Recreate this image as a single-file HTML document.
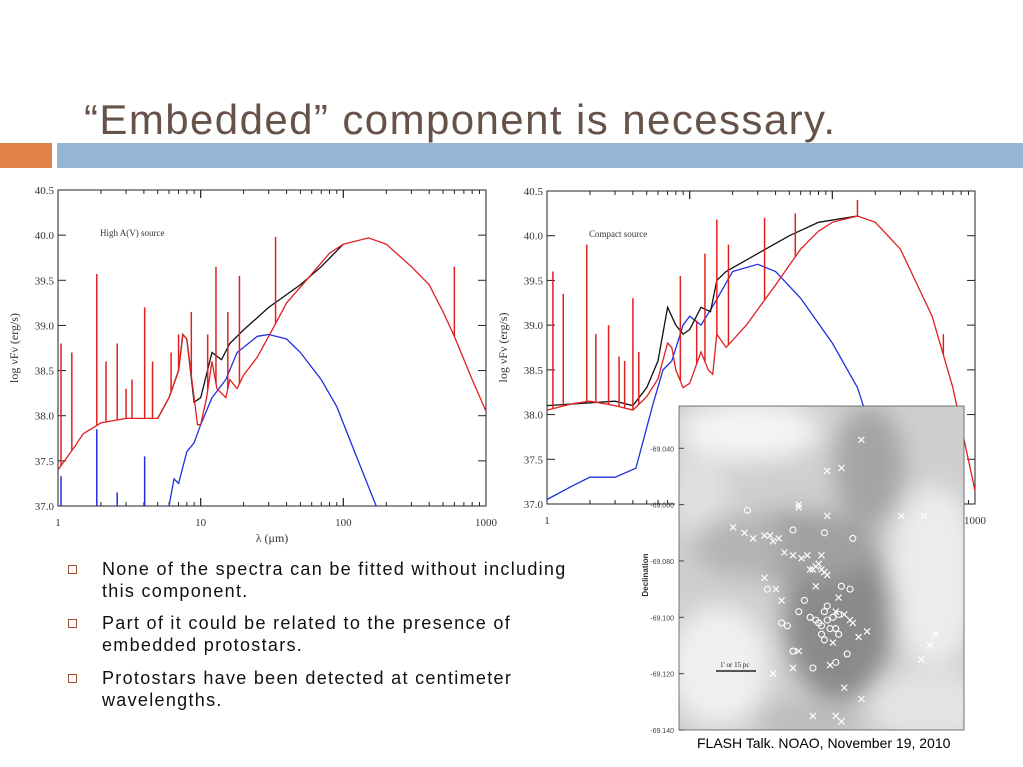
<!DOCTYPE html>
<html><head><meta charset="utf-8">
<style>
body{margin:0;width:1023px;height:767px;background:#fff;position:relative;overflow:hidden;font-family:"Liberation Sans",sans-serif}
.abs{position:absolute}
.bul{position:absolute;left:102px;font-size:18px;letter-spacing:1.3px;line-height:22px;color:#111;width:480px}
.sq{position:absolute;left:68px;width:7px;height:7px;border:1px solid #a05030}
</style></head><body>
<svg class="abs" style="left:0;top:0" width="1023" height="767">
<text x="84" y="134" font-size="42" fill="#665248" textLength="751" font-family="Liberation Sans, sans-serif">“Embedded” component is necessary.</text>
<rect x="0" y="143" width="52" height="25" fill="#e0824a"/>
<rect x="57" y="143" width="966" height="25" fill="#94b6d2"/>
<g id="chartL"></g>
<g id="chartR"></g>
<g id="img"></g>
</svg>
<div class="sq" style="top:565px"></div>
<div class="bul" style="top:558px">None of the spectra can be fitted without including this component.</div>
<div class="sq" style="top:619px"></div>
<div class="bul" style="top:612px">Part of it could be related to the presence of embedded protostars.</div>
<div class="sq" style="top:674px"></div>
<div class="bul" style="top:667px">Protostars have been detected at centimeter wavelengths.</div>
<div class="abs" style="left:697px;top:735px;font-size:14px;color:#000">FLASH Talk. NOAO, November 19, 2010</div>
<script>
// ---- Left chart data ----
const L_redLam=[1,1.3,1.5,2,3,5,6,7,7.5,8,9,9.5,10,11,12,13,15,16,18,20,25,33,40,55,80,100,150,200,300,400,500,600,800,1000];
const L_redVal=[37.4,37.65,37.8,37.92,37.97,37.97,38.2,38.5,38.9,38.85,38.2,37.9,37.9,38.2,38.6,38.3,38.2,38.4,38.3,38.45,38.65,39.0,39.25,39.5,39.8,39.9,39.97,39.9,39.65,39.45,39.15,38.88,38.4,38.05];
const L_blkLam=[5,6,7,7.5,8,9,10,12,14,16,20,30,50,70,100];
const L_blkVal=[37.97,38.2,38.5,38.9,38.85,38.15,38.2,38.7,38.62,38.8,38.95,39.2,39.45,39.65,39.9];
const L_bluLam=[6,6.5,7,8,9,10,12,15,18,25,30,40,50,70,90,120,170];
const L_bluVal=[37.0,37.3,37.25,37.6,37.7,37.9,38.2,38.4,38.7,38.88,38.9,38.85,38.7,38.4,38.1,37.6,37.0];
const L_spkLam=[1.05,1.25,1.87,2.17,2.6,3.0,3.3,4.05,4.6,6.2,7,8.6,11.2,12.8,15.5,18.7,33.5,600];
const L_spkVal=[38.8,38.7,39.57,38.6,38.8,38.3,38.4,39.2,38.6,38.7,38.9,39.15,38.9,39.65,39.15,39.55,39.98,39.65];
const L_bspkLam=[1.05,1.87,2.6,4.05];
const L_bspkVal=[37.33,37.85,37.15,37.55];
// ---- Right chart data ----
const R_redLam=[1,1.5,2,3,4,5,6,7,7.5,8,9,10,12,13.5,14.5,15.5,18,25,40,60,80,100,150,200,300,500,700,1000];
const R_redVal=[38.05,38.12,38.15,38.1,38.05,38.2,38.4,38.8,38.75,38.5,38.3,38.35,38.7,38.5,38.45,38.9,38.75,39.0,39.45,39.85,40.05,40.15,40.22,40.15,39.85,39.1,38.3,37.15];
const R_blkLam=[1,3,4,5,6,7,8,9,10,12,14,15.5,18,30,50,80,150];
const R_blkVal=[38.1,38.15,38.1,38.3,38.6,39.2,39.0,38.9,38.95,39.2,39.15,39.5,39.6,39.8,40.0,40.15,40.22];
const R_bluLam=[1,1.5,2,3,4.2,5.5,6.5,7.5,9,10,12,15,20,30,40,60,100,150,250];
const R_bluVal=[37.05,37.2,37.3,37.3,37.4,38.1,38.5,38.6,39.0,39.1,39.0,39.25,39.6,39.68,39.6,39.3,38.8,38.3,37.2];
const R_spkLam=[1.1,1.3,1.9,2.2,2.7,3.2,3.5,4.0,4.4,8.6,11.2,12.8,15.5,18.7,33.5,55,150,600];
const R_spkVal=[39.6,39.35,39.9,38.9,39.0,38.65,38.6,39.3,38.7,39.55,39.05,39.8,40.18,39.9,40.2,40.25,40.4,38.9];
const yTicks=[37.0,37.5,38.0,38.5,39.0,39.5,40.0,40.5];
const xTicks=[1,10,100,1000];
// ---- Image markers (frame fraction x, Dec) ----
const crossX=[0.64,0.52,0.57,0.42,0.42,0.52,0.78,0.86,0.19,0.23,0.26,0.3,0.32,0.33,0.35,0.37,0.4,0.43,0.45,0.5,0.46,0.47,0.48,0.49,0.5,0.51,0.52,0.48,0.3,0.34,0.36,0.56,0.55,0.58,0.6,0.61,0.63,0.66,0.54,0.42,0.53,0.58,0.64,0.9,0.88,0.85,0.33,0.57,0.47,0.55,0.4];
const crossY=[-69.037,-69.048,-69.047,-69.060,-69.061,-69.064,-69.064,-69.064,-69.068,-69.070,-69.072,-69.071,-69.071,-69.073,-69.072,-69.077,-69.078,-69.079,-69.078,-69.078,-69.083,-69.083,-69.082,-69.081,-69.083,-69.084,-69.085,-69.089,-69.086,-69.090,-69.094,-69.093,-69.098,-69.099,-69.101,-69.102,-69.107,-69.105,-69.109,-69.112,-69.117,-69.125,-69.129,-69.106,-69.110,-69.115,-69.120,-69.137,-69.135,-69.135,-69.118];
const circX=[0.24,0.4,0.51,0.61,0.31,0.44,0.52,0.51,0.56,0.57,0.6,0.42,0.46,0.48,0.49,0.5,0.52,0.53,0.54,0.55,0.56,0.5,0.51,0.38,0.4,0.36,0.47,0.59,0.55,0.4];
const circY=[-69.062,-69.069,-69.070,-69.072,-69.090,-69.094,-69.096,-69.098,-69.099,-69.089,-69.090,-69.098,-69.100,-69.101,-69.102,-69.103,-69.101,-69.104,-69.100,-69.104,-69.106,-69.106,-69.108,-69.103,-69.112,-69.102,-69.118,-69.113,-69.116,-69.112];

const NS="http://www.w3.org/2000/svg";
function mk(parent,tag,attrs){const e=document.createElementNS(NS,tag);for(const k in attrs)e.setAttribute(k,attrs[k]);parent.appendChild(e);return e;}

function chart(g,x0,x1,y0,y1,series,label){
  const X=l=>x0+(Math.log10(l)/3)*(x1-x0);
  const Y=v=>y1-(v-37)/3.5*(y1-y0);
  const frame=mk(g,'rect',{x:x0,y:y0,width:x1-x0,height:y1-y0,fill:'#fff',stroke:'#222','stroke-width':1});
  
  
  yTicks.forEach(t=>{
    const y=Y(t);
    mk(g,'line',{x1:x0,x2:x0+8,y1:y,y2:y,stroke:'#222'});
    mk(g,'line',{x1:x1-8,x2:x1,y1:y,y2:y,stroke:'#222'});
    const tx=mk(g,'text',{x:x0-4,y:y+4,'text-anchor':'end','font-size':11,'font-family':'Liberation Serif, serif',fill:'#333'});
    tx.textContent=t.toFixed(1);
    
    
  });
  for(let d=0;d<3;d++)for(let m=1;m<=10;m++){
    const x=X(Math.pow(10,d)*m);const len=(m===1||m===10)?8:4;
    mk(g,'line',{x1:x,x2:x,y1:y1,y2:y1-len,stroke:'#222'});
    mk(g,'line',{x1:x,x2:x,y1:y0,y2:y0+len,stroke:'#222'});
  }
  xTicks.forEach(t=>{
    const tx=mk(g,'text',{x:X(t),y:y1+20,'text-anchor':'middle','font-size':11,'font-family':'Liberation Serif, serif',fill:'#333'});
    tx.textContent=String(t);
    
    
  });
  const yl=mk(g,'text',{transform:`translate(${x0-40},${(y0+y1)/2}) rotate(-90)`,'text-anchor':'middle','font-size':12,'font-family':'Liberation Serif, serif',fill:'#333'});
  yl.textContent='log νFν (erg/s)';
  
  
  const xl=mk(g,'text',{x:(x0+x1)/2,y:y1+36,'text-anchor':'middle','font-size':12,'font-family':'Liberation Serif, serif',fill:'#333'});
  xl.textContent='λ (μm)';
  
  
  const lb=mk(g,'text',{x:x0+42,y:y0+46,'font-size':9,'font-family':'Liberation Serif, serif',fill:'#333'});
  lb.textContent=label;
  
  
  series.forEach(s=>{
    const cl=v=>Math.max(37,v);
    if(s.spk){
      s.lam.forEach((l,i)=>{
        const base=s.base?s.base(l):37;
        const ln=mk(g,'line',{x1:X(l),x2:X(l),y1:Y(base),y2:Y(cl(s.val[i])),stroke:s.c,'stroke-width':1.5});
        
        
      });
    } else {
      const d=s.lam.map((l,i)=>(i?'L':'M')+X(l).toFixed(1)+','+Y(cl(s.val[i])).toFixed(1)).join('');
      const p=mk(g,'path',{d:d,fill:'none',stroke:s.c,'stroke-width':1.3});
      
      
    }
  });
}
function interp(lams,vals){return l=>{for(let i=1;i<lams.length;i++){if(l<=lams[i]){const t=(Math.log(l)-Math.log(lams[i-1]))/(Math.log(lams[i])-Math.log(lams[i-1]));return vals[i-1]+t*(vals[i]-vals[i-1]);}}return vals[vals.length-1];};}
chart(document.getElementById('chartL'),58,486,190,506,[
  {lam:L_bluLam,val:L_bluVal,c:'#2030e0',name:'series-embedded-blue'},
  {lam:L_bspkLam,val:L_bspkVal,c:'#2030e0',spk:1,name:'blue-emission-line'},
  {lam:L_blkLam,val:L_blkVal,c:'#111',name:'series-total-black'},
  {lam:L_redLam,val:L_redVal,c:'#e02020',name:'series-model-red'},
  {lam:L_spkLam,val:L_spkVal,c:'#e02020',spk:1,base:interp(L_redLam,L_redVal),name:'red-emission-line'}
],'High A(V) source');
chart(document.getElementById('chartR'),547,975,191,504,[
  {lam:R_bluLam,val:R_bluVal,c:'#2030e0',name:'series-embedded-blue'},
  {lam:R_blkLam,val:R_blkVal,c:'#111',name:'series-total-black'},
  {lam:R_redLam,val:R_redVal,c:'#e02020',name:'series-model-red'},
  {lam:R_spkLam,val:R_spkVal,c:'#e02020',spk:1,base:interp(R_redLam,R_redVal),name:'red-emission-line'}
],'Compact source');

// ---- Nebula image ----
(function(){
  const g=document.getElementById('img');
  const ix0=679,ix1=964,iy0=406,iy1=730;
  const defs=mk(g,'defs',{});
  const f=mk(defs,'filter',{id:'bl',x:'-50%',y:'-50%',width:'200%',height:'200%'});
  mk(f,'feGaussianBlur',{stdDeviation:12});
  const cp=mk(defs,'clipPath',{id:'cp'});
  mk(cp,'rect',{x:ix0,y:iy0,width:ix1-ix0,height:iy1-iy0});
  mk(g,'rect',{x:ix0-4,y:iy0,width:ix1-ix0+4,height:iy1-iy0+22,fill:'#fff'});
  const cg=mk(g,'g',{'clip-path':'url(#cp)'});
  mk(cg,'rect',{x:ix0,y:iy0,width:ix1-ix0,height:iy1-iy0,fill:'#cfcfcf'});
  const bg=mk(cg,'g',{filter:'url(#bl)'});
  [[ix0+70,iy0+25,70,30,'#f4f4f4'],[ix0+40,iy0+260,50,60,'#f0f0f0'],[ix0+255,iy0+170,45,90,'#ececec'],[ix0+250,iy0+300,60,35,'#e4e4e4'],[ix0+20,iy0+90,30,40,'#e0e0e0'],
   [ix0+160,iy0+210,55,85,'#8a8a8a'],[ix0+120,iy0+140,80,35,'#a0a0a0'],[ix0+190,iy0+60,35,60,'#a4a4a4'],[ix0+60,iy0+140,45,30,'#b4b4b4'],[ix0+130,iy0+315,55,20,'#bcbcbc']]
  .forEach(e=>mk(bg,'ellipse',{cx:e[0],cy:e[1],rx:e[2],ry:e[3],fill:e[4]}));
  const X=fx=>ix0+fx*(ix1-ix0);
  const Y=d=>iy0+((-69.025-d)/(0.115))*(iy1-iy0);
  crossX.forEach((fx,i)=>{
    const x=X(fx),y=Y(crossY[i]);
    const c=mk(cg,'path',{d:`M${x-3},${y-3}L${x+3},${y+3}M${x-3},${y+3}L${x+3},${y-3}`,stroke:'#fff','stroke-width':1.2});
    
    
  });
  circX.forEach((fx,i)=>{
    const c=mk(cg,'circle',{cx:X(fx),cy:Y(circY[i]),r:3,fill:'none',stroke:'#fff','stroke-width':1.1});
    
    
  });
  mk(g,'rect',{x:ix0,y:iy0,width:ix1-ix0,height:iy1-iy0,fill:'none',stroke:'#555','stroke-width':0.8});
  [-69.040,-69.060,-69.080,-69.100,-69.120,-69.140].forEach(d=>{
    const y=Y(d);
    mk(g,'line',{x1:ix0,x2:ix0+5,y1:y,y2:y,stroke:'#444'});
    const t=mk(g,'text',{x:ix0-5,y:y+3,'text-anchor':'end','font-size':7,fill:'#444'});
    t.textContent=d.toFixed(3);
    
    
  });
  const dl=mk(g,'text',{transform:`translate(648,${Y(-69.085)}) rotate(-90)`,'text-anchor':'middle','font-size':8,'font-weight':'bold',fill:'#333'});
  dl.textContent='Declination';
  
  
  const sb=mk(g,'line',{x1:716,x2:756,y1:671,y2:671,stroke:'#222','stroke-width':1.5});
  
  
  const st=mk(g,'text',{x:720,y:667,'font-size':7,'font-family':'Liberation Serif, serif',fill:'#222'});
  st.textContent="1' or 15 pc";
  
  
})();
</script>
</body></html>
